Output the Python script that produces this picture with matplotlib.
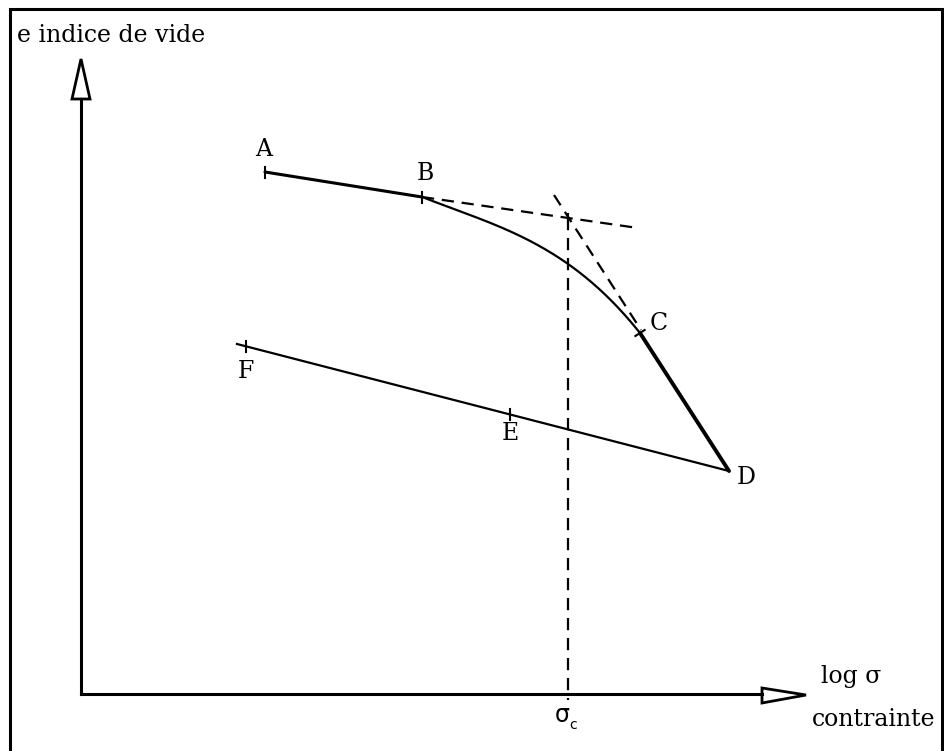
import numpy as np
import matplotlib.pyplot as plt
from matplotlib.patches import Polygon

plt.rcParams['font.family'] = ['DejaVu Serif']

# schematic oedometer curve, in drawing units (x to the right, y downwards)
pt_A = (265, 172)
pt_B = (422, 197)
pt_C = (640, 333)
pt_D = (729, 471)
pt_E = (510, 414)
pt_F = (246, 346)
unload_start = (237, 344)

# points read along the bend between B and C
bend_x = [422, 443, 477, 520, 568, 603, 640]
bend_y = [197, 205, 217, 237, 263, 293, 333]

# tangent constructions
tangent1_x = [422, 638]
tangent1_y = [197, 228]
tangent2_x = [554, 641]
tangent2_y = [195, 330]
sigma_c = 568
sigma_c_top = 218

origin = (81, 694)
y_axis_top = 99
x_axis_end = 762

fig = plt.figure(figsize=(9.45, 7.51), dpi=100)
ax = fig.add_axes([0, 0, 1, 1])
ax.set_xlim(0, 945)
ax.set_ylim(751, 0)
ax.axis('off')

# frame (left, top, right)
ax.plot([10, 10, 942, 942], [751, 9, 9, 751], color='black', lw=2.2,
        solid_joinstyle='miter')

# axes with hollow arrow heads
ax.plot([origin[0], origin[0]], [origin[1], y_axis_top], color='black', lw=2.2)
ax.plot([origin[0], x_axis_end], [origin[1], origin[1]], color='black', lw=2.2)
ax.add_patch(Polygon([(72, 99), (90, 99), (81, 59)], closed=True,
                     facecolor='white', edgecolor='black', lw=2.0))
ax.add_patch(Polygon([(762, 688), (762, 703), (806, 695)], closed=True,
                     facecolor='white', edgecolor='black', lw=2.0))

# loading branch A-B-C-D
ax.plot([pt_A[0], pt_B[0]], [pt_A[1], pt_B[1]], color='black', lw=2.2,
        solid_capstyle='round')
coef = np.polyfit(bend_x, bend_y, 3)
xs = np.linspace(bend_x[0], bend_x[-1], 200)
ax.plot(xs, np.polyval(coef, xs), color='black', lw=1.6)
ax.plot([pt_C[0], pt_D[0]], [pt_C[1], pt_D[1]], color='black', lw=2.8,
        solid_capstyle='round')

# unloading branch D-E-F
ax.plot([pt_D[0], unload_start[0]], [pt_D[1], unload_start[1]],
        color='black', lw=1.6)

# dashed constructions
dash = dict(color='black', lw=1.6, dashes=(5.5, 3.5))
ax.plot(tangent1_x, tangent1_y, **dash)
ax.plot(tangent2_x, tangent2_y, **dash)
ax.plot([sigma_c, sigma_c], [sigma_c_top, 700], **dash)


def tick(p, direction=None, half=5.5):
    # short stroke through p, vertical unless a direction is given
    if direction is None:
        n = np.array([0.0, 1.0])
    else:
        d = np.array(direction, float) - np.array(p, float)
        n = np.array([-d[1], d[0]]) / np.hypot(*d)
    ax.plot([p[0] - half * n[0], p[0] + half * n[0]],
            [p[1] - half * n[1], p[1] + half * n[1]], color='black', lw=1.5)


tick(pt_A)
tick(pt_B)
tick(pt_C, pt_D)
tick(pt_E)
tick(pt_F)
tick((sigma_c, sigma_c_top), half=4)

fs = 17
ax.text(pt_A[0] - 1, pt_A[1] - 22, 'A', fontsize=fs, ha='center', va='center')
ax.text(pt_B[0] + 3, pt_B[1] - 23, 'B', fontsize=fs, ha='center', va='center')
ax.text(pt_C[0] + 19, pt_C[1] - 10, 'C', fontsize=fs, ha='center', va='center')
ax.text(pt_D[0] + 17, pt_D[1] + 6, 'D', fontsize=fs, ha='center', va='center')
ax.text(pt_E[0], pt_E[1] + 19, 'E', fontsize=fs, ha='center', va='center')
ax.text(pt_F[0], pt_F[1] + 26, 'F', fontsize=fs, ha='center', va='center')

ax.text(17, 36, 'e indice de vide', fontsize=fs, ha='left', va='center')
ax.text(821, 677, 'log σ', fontsize=fs, ha='left', va='center')
ax.text(812, 720, 'contrainte', fontsize=fs, ha='left', va='center')
ax.text(sigma_c - 6, 715, 'σ', fontsize=fs, ha='center', va='center',
        family='DejaVu Sans')
ax.text(sigma_c + 5, 725, 'c', fontsize=10, ha='center', va='center',
        family='DejaVu Sans')

fig.savefig('out.png', dpi=100)
